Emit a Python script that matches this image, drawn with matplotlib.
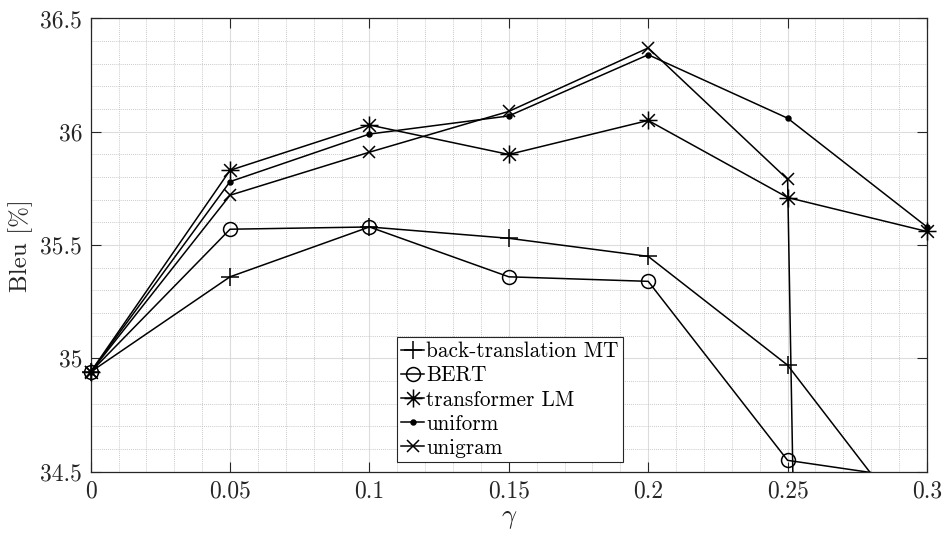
import matplotlib
matplotlib.use("Agg")
import matplotlib.pyplot as plt
from matplotlib.lines import Line2D
from matplotlib.path import Path
import numpy as np

# data
gamma = [0, 0.05, 0.1, 0.15, 0.2, 0.25, 0.3]
bt_mt = [34.94, 35.36, 35.58, 35.53, 35.45, 34.97, 34.17]
bert = [34.94, 35.57, 35.58, 35.36, 35.34, 34.55, 34.46]
transformer_lm = [34.94, 35.83, 36.03, 35.90, 36.05, 35.71, 35.56]
uniform = [34.94, 35.78, 35.99, 36.07, 36.34, 36.06, 35.58]
unigram = [34.94, 35.72, 35.91, 36.09, 36.37, 35.79, 1.3]

labels = ["back-translation MT", "BERT", "transformer LM", "uniform", "unigram"]
xticks = [0, 0.05, 0.1, 0.15, 0.2, 0.25, 0.3]
xticklabels = ["0", "0.05", "0.1", "0.15", "0.2", "0.25", "0.3"]
yticks = [34.5, 35, 35.5, 36, 36.5]
yticklabels = ["34.5", "35", "35.5", "36", "36.5"]

plt.rcParams["font.family"] = "serif"
plt.rcParams["font.serif"] = ["cmr10"]
plt.rcParams["mathtext.fontset"] = "cm"
plt.rcParams["axes.formatter.use_mathtext"] = True

# matlab style 8-spoke asterisk
ast = Path([(-1, 0), (1, 0), (0, -1), (0, 1),
            (-0.707, -0.707), (0.707, 0.707), (-0.707, 0.707), (0.707, -0.707)],
           [Path.MOVETO, Path.LINETO] * 4)

styles = [
    dict(marker="+", ms=13, mfc="none"),
    dict(marker="o", ms=10, mfc="none"),
    dict(marker=ast, ms=13, mfc="none"),
    dict(marker="o", ms=3.5, mfc="black"),
    dict(marker="x", ms=8, mfc="none"),
]
series = [bt_mt, bert, transformer_lm, uniform, unigram]

fig = plt.figure(figsize=(9.44, 5.36), dpi=100)
ax = fig.add_axes([0.096, 0.120, 0.886, 0.8455])

ylo, yhi = 34.5, 36.5
handles = []
for y, st, lab in zip(series, styles, labels):
    y = np.array(y)
    x = np.array(gamma)
    ax.plot(x, y, color="black", lw=1.1, zorder=3)
    inside = (y >= ylo) & (y <= yhi)
    ax.plot(x[inside], y[inside], ls="none", color="black",
            mew=1.1, clip_on=False, zorder=4, **st)
    handles.append(Line2D([], [], color="black", lw=1.1, mew=1.1,
                          label=lab, **st))

ax.set_xlim(0, 0.3)
ax.set_ylim(ylo, yhi)
ax.set_xticks(xticks)
ax.set_xticklabels(xticklabels)
ax.set_yticks(yticks)
ax.set_yticklabels(yticklabels)
ax.set_xticks(np.arange(0, 0.301, 0.01), minor=True)
ax.set_yticks(np.arange(34.5, 36.501, 0.1), minor=True)

ax.grid(True, which="major", color="#dcdcdc", lw=0.8, ls="-")
ax.grid(True, which="minor", color="#b8b8b8", lw=0.6, ls=(0, (1, 1.5)))
ax.set_axisbelow(True)

ax.tick_params(which="major", direction="in", length=7, width=0.8,
               top=True, right=True, labelsize=17, colors="#262626", pad=6)
ax.tick_params(which="minor", length=0, top=True, right=True)
for sp in ax.spines.values():
    sp.set_color("#262626")
    sp.set_linewidth(0.9)

ax.set_xlabel(r"$\gamma$", fontsize=19, color="#262626", labelpad=4)
ax.set_ylabel("Bleu [%]", fontsize=18, color="#262626", labelpad=5)

leg = ax.legend(handles=handles, loc="lower left", bbox_to_anchor=(0.366, 0.021),
                fontsize=15.3, frameon=True, fancybox=False, framealpha=1,
                edgecolor="#262626", handlelength=1.1, handletextpad=0.1,
                labelspacing=0.22, borderpad=0.2, borderaxespad=0)
leg.get_frame().set_linewidth(0.8)

fig.savefig("out.png", dpi=100)
